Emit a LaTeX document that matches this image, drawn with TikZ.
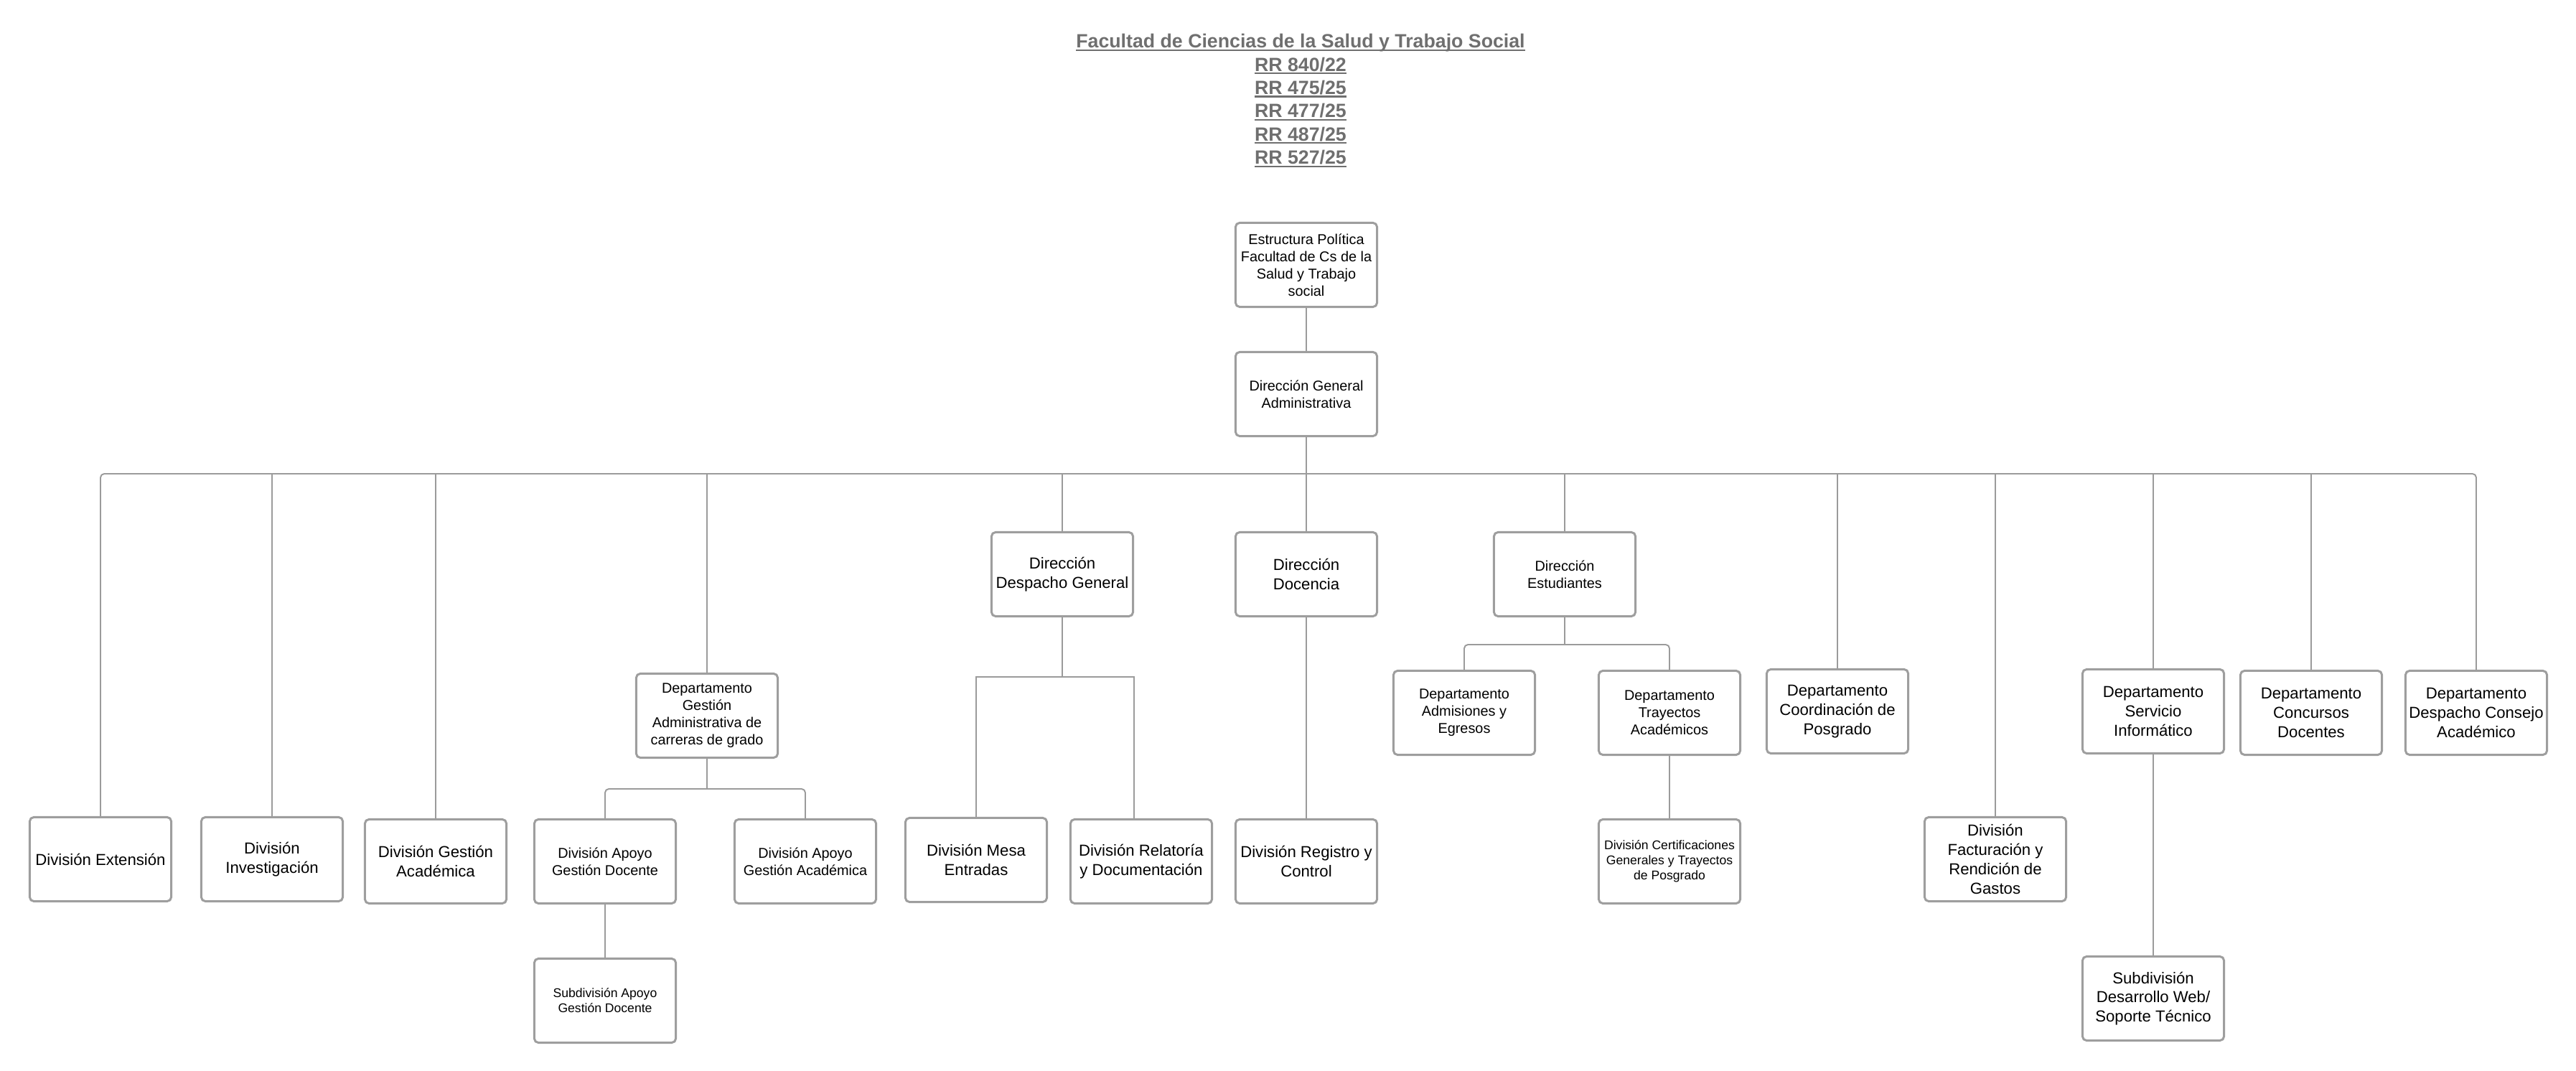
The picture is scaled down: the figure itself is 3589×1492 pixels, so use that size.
\documentclass[tikz,border=0pt]{standalone}
\usepackage{fontspec}
\setmainfont{Liberation Sans}
\usepackage{tikz}
\definecolor{boxgray}{HTML}{9E9E9E}
\definecolor{linegray}{HTML}{9B9B9B}
\definecolor{titlegray}{HTML}{6F6F6F}
\newcommand{\undrl}[1]{\setbox0\hbox{#1}\rlap{\rule[-1.2pt]{\wd0}{0.6pt}}\box0}
\tikzset{
	unit node/.style={draw=boxgray,line width=0.85pt,rounded corners=1.6pt,
		minimum width=1.97cm,minimum height=1.17cm,inner sep=1pt,align=center},
	big font/.style={font=\fontsize{6.3}{7.6}\selectfont},
	mid font/.style={font=\fontsize{5.65}{6.8}\selectfont},
	small font/.style={font=\fontsize{5}{6}\selectfont},
	link/.style={draw=linegray,line width=0.55pt}
}

\begin{document}
\begin{tikzpicture}[x=0.01cm,y=-0.01cm]
	\useasboundingbox (0,0) rectangle (3589,1492);
	\node [text=titlegray,font=\fontsize{7.6}{9.2}\selectfont\bfseries,align=center,inner sep=0pt] (title) at (1812,140)
		{\undrl{Facultad de Ciencias de la Salud y Trabajo Social}\\\undrl{RR 840/22}\\\undrl{RR 475/25}\\
		\undrl{RR 477/25}\\\undrl{RR 487/25}\\\undrl{RR 527/25}};

	\node [unit node,mid font] (politica) at (1820,369) {Estructura Política\\Facultad de Cs de la\\Salud y Trabajo\\social};
	\node [unit node,mid font] (dga) at (1820,549) {Dirección General\\Administrativa};

	\node [unit node,big font] (extension) at (140,1197) {División Extensión};
	\node [unit node,big font] (investigacion) at (379,1197) {División\\Investigación};
	\node [unit node,big font] (gestacad) at (607,1200) {División Gestión\\Académica};
	\node [unit node,mid font] (depgestion) at (985,997) {Departamento\\Gestión\\Administrativa de\\carreras de grado};
	\node [unit node,mid font] (apoyodoc) at (843,1200) {División Apoyo\\Gestión Docente};
	\node [unit node,mid font] (apoyoacad) at (1122,1200) {División Apoyo\\Gestión Académica};
	\node [unit node,small font] (subapoyo) at (843,1394) {Subdivisión Apoyo\\Gestión Docente};
	\node [unit node,big font] (despacho) at (1480,800) {Dirección\\Despacho General};
	\node [unit node,big font] (mesa) at (1360,1198) {División Mesa\\Entradas};
	\node [unit node,big font] (relatoria) at (1590,1200) {División Relatoría\\y Documentación};
	\node [unit node,big font] (docencia) at (1820,800) {Dirección\\Docencia};
	\node [unit node,big font] (registro) at (1820,1200) {División Registro y\\Control};
	\node [unit node,mid font] (estudiantes) at (2180,800) {Dirección\\Estudiantes};
	\node [unit node,mid font] (admisiones) at (2040,993) {Departamento\\Admisiones y\\Egresos};
	\node [unit node,mid font] (trayectos) at (2326,993) {Departamento\\Trayectos\\Académicos};
	\node [unit node,small font] (certif) at (2326,1200) {División Certificaciones\\Generales y Trayectos\\de Posgrado};
	\node [unit node,big font] (posgrado) at (2560,991) {Departamento\\Coordinación de\\Posgrado};
	\node [unit node,big font] (facturacion) at (2780,1197) {División\\Facturación y\\Rendición de\\Gastos};
	\node [unit node,big font] (informatico) at (3000,991) {Departamento\\Servicio\\Informático};
	\node [unit node,big font] (web) at (3000,1391) {Subdivisión\\Desarrollo Web/\\Soporte Técnico};
	\node [unit node,big font] (concursos) at (3220,993) {Departamento\\Concursos\\Docentes};
	\node [unit node,big font] (consejo) at (3450,993) {Departamento\\Despacho Consejo\\Académico};

	\coordinate (bus) at (1820,660);
	\draw [link] (politica) -- (dga);
	\draw [link] (dga) -- (docencia);
	\draw [link,rounded corners=1.5pt] (extension.north) |- (bus) -| (consejo.north);
	\foreach \n in {investigacion,gestacad,depgestion,despacho,estudiantes,posgrado,facturacion,informatico,concursos}
		\draw [link] (\n.north) -- (\n.north |- bus);

	\coordinate (gbus) at (985,1099);
	\draw [link] (depgestion) -- (gbus);
	\draw [link,rounded corners=1.5pt] (apoyodoc.north) |- (gbus) -| (apoyoacad.north);
	\draw [link] (apoyodoc) -- (subapoyo);
	\coordinate (dbus) at (1480,943);
	\draw [link] (despacho) -- (dbus);
	\draw [link] (mesa.north) |- (dbus) -| ([xshift=-0.1cm]relatoria.north);
	\draw [link] (docencia) -- (registro);
	\coordinate (ebus) at (2180,898);
	\draw [link] (estudiantes) -- (ebus);
	\draw [link,rounded corners=1.5pt] (admisiones.north) |- (ebus) -| (trayectos.north);
	\draw [link] (trayectos) -- (certif);
	\draw [link] (informatico) -- (web);
\end{tikzpicture}
\end{document}
